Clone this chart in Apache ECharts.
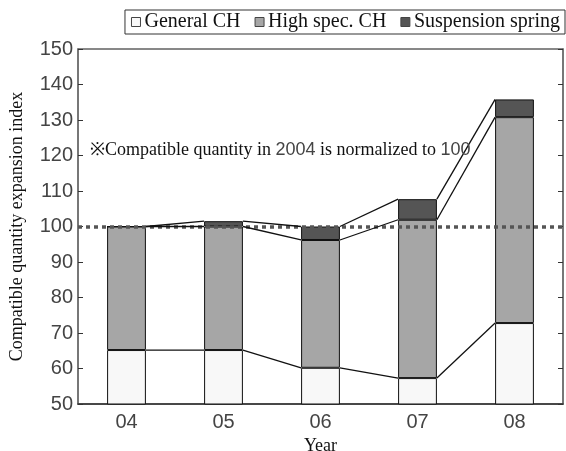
<!DOCTYPE html>
<html>
<head>
<meta charset="utf-8">
<script src="https://cdn.jsdelivr.net/npm/echarts@6/dist/echarts.min.js"></script>
<style>
  html, body { margin: 0; padding: 0; background: #fff; }
  #chart { width: 566px; height: 451px; }
</style>
</head>
<body>
<div id="chart"></div>
<script>
const years = ['04', '05', '06', '07', '08']
const general = [65.2, 65.2, 60.2, 57.3, 72.8]
const highSpec = [34.8, 34.8, 36.0, 44.6, 58.0]
const suspension = [0, 1.5, 3.8, 5.8, 5.0]
const yTicks = [50, 150, 10]
const baseLine = 100

const serif = '"Liberation Serif", "DejaVu Serif", serif'
const sans = '"Liberation Sans", Arial, sans-serif'

// stack levels for the connector lines between bars
const levels = general.map((g, i) => [g, g + highSpec[i], g + highSpec[i] + suspension[i]])
const connectors = []
for (let i = 0; i < years.length - 1; i++) {
  for (let k = 0; k < 3; k++) {
    connectors.push([i, levels[i][k], levels[i + 1][k]])
  }
}

const chart = echarts.init(document.getElementById('chart'))

const barStyle = (color) => ({
  color: color,
  borderColor: '#111',
  borderWidth: 1
})

chart.setOption({
  animation: false,
  title: {
    left: 85,
    top: 136,
    text: '{s|※Compatible quantity in }{n|2004}{s| is normalized to }{n|100}',
    textStyle: {
      fontWeight: 'normal',
      rich: {
        s: { fontFamily: serif, fontSize: 18, fontWeight: 'normal', color: '#111' },
        n: { fontFamily: sans, fontSize: 18, fontWeight: 'normal', color: '#444' }
      }
    }
  },
  legend: {
    right: 1,
    top: 10,
    itemWidth: 9,
    itemHeight: 9,
    itemGap: 14,
    padding: [2, 5, 2, 6],
    borderColor: '#333',
    borderWidth: 1,
    icon: 'rect',
    itemStyle: { borderColor: '#444', borderWidth: 1 },
    textStyle: { fontFamily: serif, fontSize: 20, color: '#111', padding: [0, 0, 0, -1] },
    data: ['General CH', 'High spec. CH', 'Suspension spring']
  },
  grid: {
    left: 78,
    right: 3,
    top: 49,
    bottom: 47,
    outerBoundsMode: 'none',
    show: true,
    borderColor: '#111',
    borderWidth: 1
  },
  xAxis: {
    type: 'category',
    data: years,
    name: 'Year',
    nameLocation: 'middle',
    nameGap: 26,
    nameTextStyle: { fontFamily: serif, fontSize: 18, color: '#111' },
    axisLine: { lineStyle: { color: '#333', width: 1.5 } },
    axisTick: { inside: true, length: 5, lineStyle: { color: '#333' } },
    axisLabel: { fontFamily: sans, fontSize: 20, color: '#444', margin: 8 }
  },
  yAxis: [{
    type: 'value',
    min: yTicks[0],
    max: yTicks[1],
    interval: yTicks[2],
    name: 'Compatible quantity expansion index',
    nameLocation: 'middle',
    nameGap: 52,
    nameTextStyle: { fontFamily: serif, fontSize: 18, color: '#111' },
    axisLine: { show: true, lineStyle: { color: '#777', width: 2 } },
    axisTick: { show: true, inside: true, length: 5, lineStyle: { color: '#333' } },
    axisLabel: { fontFamily: sans, fontSize: 20, color: '#444', margin: 5 },
    splitLine: { show: false }
  }, {
    type: 'value',
    position: 'right',
    min: yTicks[0],
    max: yTicks[1],
    interval: yTicks[2],
    axisLine: { show: true, lineStyle: { color: '#777', width: 2 } },
    axisTick: { show: true, inside: true, length: 5, lineStyle: { color: '#333' } },
    axisLabel: { show: false },
    splitLine: { show: false }
  }],
  series: [
    {
      name: 'General CH',
      type: 'bar',
      stack: 'all',
      barWidth: '40%',
      itemStyle: barStyle('#f8f8f8'),
      data: general
    },
    {
      name: 'High spec. CH',
      type: 'bar',
      stack: 'all',
      barWidth: '40%',
      itemStyle: barStyle('#a6a6a6'),
      data: highSpec
    },
    {
      name: 'Suspension spring',
      type: 'bar',
      stack: 'all',
      barWidth: '40%',
      itemStyle: barStyle('#555555'),
      data: suspension
    },
    {
      type: 'custom',
      z: 5,
      silent: true,
      encode: { x: 0, y: [1, 2] },
      data: connectors,
      renderItem: (params, api) => {
        const half = api.size([1, 0])[0] * 0.2
        const p1 = api.coord([api.value(0), api.value(1)])
        const p2 = api.coord([api.value(0) + 1, api.value(2)])
        return {
          type: 'line',
          shape: { x1: p1[0] + half, y1: p1[1], x2: p2[0] - half, y2: p2[1] },
          style: { stroke: '#111', lineWidth: 1.3 }
        }
      },
      markLine: {
        silent: true,
        symbol: 'none',
        label: { show: false },
        lineStyle: { color: '#555', width: 3.5, type: [4, 4] },
        data: [{ yAxis: baseLine }]
      }
    }
  ]
})
</script>
</body>
</html>
